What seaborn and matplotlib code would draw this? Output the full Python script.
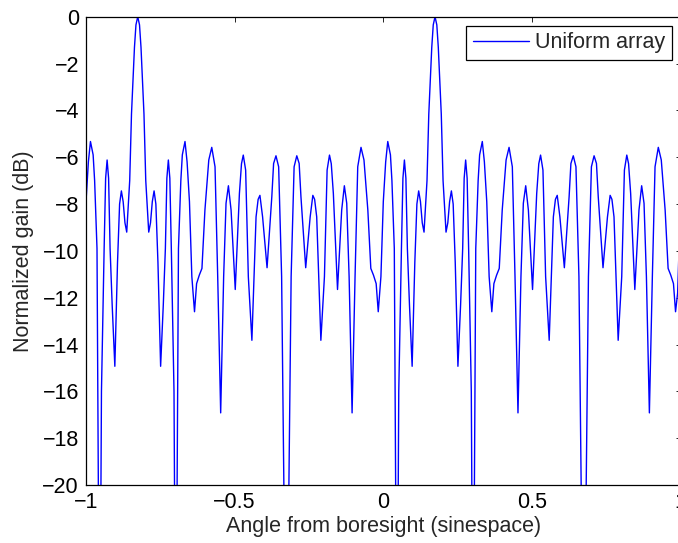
import matplotlib
matplotlib.use("Agg")
import matplotlib.pyplot as plt
import seaborn as sns
import pandas as pd

# ---- data (sine-space angle, dB) ----
angle_sine = [
    -1.000, -0.992, -0.985, -0.976, -0.971, -0.963, -0.954, -0.948, -0.939, -0.934,
    -0.929, -0.924, -0.919, -0.912, -0.903, -0.894, -0.887, -0.881, -0.875, -0.869,
    -0.863, -0.853, -0.847, -0.837, -0.832, -0.826,
    -0.820, -0.815, -0.805, -0.799, -0.789, -0.783, -0.777, -0.771, -0.765, -0.758,
    -0.749, -0.740, -0.733, -0.728, -0.723, -0.718, -0.713, -0.704, -0.698, -0.689,
    -0.681, -0.676, -0.667, -0.660, -0.652, -0.644, -0.635, -0.628, -0.619, -0.610,
    -0.600, -0.587, -0.577, -0.566, -0.557, -0.547, -0.537, -0.529, -0.521, -0.512,
    -0.498, -0.484, -0.477, -0.471, -0.463, -0.454, -0.442, -0.428, -0.421, -0.415,
    -0.406, -0.391, -0.375, -0.369, -0.361, -0.352, -0.342, -0.326,
    -0.310, -0.300, -0.291, -0.283, -0.277, -0.261, -0.246, -0.237, -0.231, -0.224,
    -0.210, -0.198, -0.189, -0.181, -0.175, -0.168, -0.154, -0.140, -0.131, -0.123,
    -0.115, -0.105, -0.095, -0.086, -0.075, -0.065, -0.052, -0.042, -0.033, -0.024,
    -0.017, -0.008, 0.000, 0.008, 0.015, 0.024, 0.029, 0.037, 0.046, 0.052,
    0.061, 0.066, 0.071, 0.076, 0.081, 0.088, 0.097, 0.106, 0.113, 0.119,
    0.125, 0.131, 0.137, 0.147, 0.153, 0.163, 0.168, 0.174,
    0.180, 0.185, 0.195, 0.201, 0.211, 0.217, 0.223, 0.229, 0.235, 0.242,
    0.251, 0.260, 0.267, 0.272, 0.277, 0.282, 0.287, 0.296, 0.302, 0.311,
    0.319, 0.324, 0.333, 0.340, 0.348, 0.356, 0.365, 0.372, 0.381, 0.390,
    0.400, 0.413, 0.423, 0.434, 0.443, 0.453, 0.463, 0.471, 0.479, 0.488,
    0.502, 0.516, 0.523, 0.529, 0.537, 0.546, 0.558, 0.572, 0.579, 0.585,
    0.594, 0.609, 0.625, 0.631, 0.639, 0.648, 0.658, 0.674,
    0.690, 0.700, 0.709, 0.717, 0.723, 0.739, 0.754, 0.763, 0.769, 0.776,
    0.790, 0.802, 0.811, 0.819, 0.825, 0.832, 0.846, 0.860, 0.869, 0.877,
    0.885, 0.895, 0.905, 0.914, 0.925, 0.935, 0.948, 0.958, 0.967, 0.976,
    0.983, 0.990, 1.000,
]

gain_db = [
    -7.9, -6.2, -5.33, -5.9, -7.0, -9.9, -30, -16.0, -9.9, -6.9,
    -6.12, -6.9, -9.9, -12.3, -14.93, -10.5, -8.0, -7.44, -7.9, -8.8,
    -9.2, -7.0, -4.16, -1.31, -0.35, 0,
    -0.35, -1.31, -4.16, -7.0, -9.2, -8.8, -7.9, -7.44, -8.0, -10.5,
    -14.93, -12.3, -9.9, -6.9, -6.12, -6.9, -9.9, -16.0, -30, -9.9,
    -7.0, -5.9, -5.33, -6.2, -7.9, -11.1, -12.6, -11.4, -11.04, -10.75,
    -8.26, -6.12, -5.58, -6.41, -11.1, -16.92, -11.1, -7.97, -7.22, -8.26,
    -11.65, -7.55, -6.28, -5.91, -6.55, -11.1, -13.82, -8.55, -7.8, -7.63,
    -8.55, -10.72, -7.69, -6.27, -5.94, -6.41, -11.1, -30,
    -11.1, -6.41, -5.94, -6.27, -7.69, -10.72, -8.55, -7.63, -7.8, -8.55,
    -13.82, -11.1, -6.55, -5.91, -6.28, -7.55, -11.65, -8.26, -7.22, -7.97,
    -11.1, -16.92, -11.1, -6.41, -5.58, -6.12, -8.26, -10.75, -11.04, -11.4,
    -12.6, -11.1, -7.9, -6.2, -5.33, -5.9, -7.0, -9.9, -30, -16.0,
    -9.9, -6.9, -6.12, -6.9, -9.9, -12.3, -14.93, -10.5, -8.0, -7.44,
    -7.9, -8.8, -9.2, -7.0, -4.16, -1.31, -0.35, 0,
    -0.35, -1.31, -4.16, -7.0, -9.2, -8.8, -7.9, -7.44, -8.0, -10.5,
    -14.93, -12.3, -9.9, -6.9, -6.12, -6.9, -9.9, -16.0, -30, -9.9,
    -7.0, -5.9, -5.33, -6.2, -7.9, -11.1, -12.6, -11.4, -11.04, -10.75,
    -8.26, -6.12, -5.58, -6.41, -11.1, -16.92, -11.1, -7.97, -7.22, -8.26,
    -11.65, -7.55, -6.28, -5.91, -6.55, -11.1, -13.82, -8.55, -7.8, -7.63,
    -8.55, -10.72, -7.69, -6.27, -5.94, -6.41, -11.1, -30,
    -11.1, -6.41, -5.94, -6.27, -7.69, -10.72, -8.55, -7.63, -7.8, -8.55,
    -13.82, -11.1, -6.55, -5.91, -6.28, -7.55, -11.65, -8.26, -7.22, -7.97,
    -11.1, -16.92, -11.1, -6.41, -5.58, -6.12, -8.26, -10.75, -11.04, -11.4,
    -12.6, -11.8, -7.9,
]

series_label = "Uniform array"
x_ticks = [-1, -0.5, 0, 0.5, 1]
x_tick_labels = ["\u22121", "\u22120.5", "0", "0.5", "1"]
y_ticks = [-20, -18, -16, -14, -12, -10, -8, -6, -4, -2, 0]
y_tick_labels = ["\u221220", "\u221218", "\u221216", "\u221214", "\u221212", "\u221210",
                 "\u22128", "\u22126", "\u22124", "\u22122", "0"]
x_label = "Angle from boresight (sinespace)"
y_label = "Normalized gain (dB)"

assert len(angle_sine) == len(gain_db)
df = pd.DataFrame({"angle": angle_sine, "gain": gain_db, "series": series_label})

sns.set_style("white")
plt.rcParams["font.family"] = ["Liberation Sans", "DejaVu Sans"]
plt.rcParams["font.size"] = 15.5

W, H = 678, 543
fig = plt.figure(figsize=(W / 100, H / 100), dpi=100)
# axes box in pixels: left 86, right 680.6 (beyond the cropped figure), top 16.7, bottom 485
ax = fig.add_axes([86 / W, (H - 485) / H, 594.6 / W, 468.3 / H])

sns.lineplot(data=df, x="angle", y="gain", hue="series", palette=["#0000ff"],
             sort=False, estimator=None, linewidth=1.0, ax=ax)

ax.set_xlim(-1, 1)
ax.set_ylim(-20, 0)
ax.set_xticks(x_ticks)
ax.set_xticklabels(x_tick_labels)
ax.set_yticks(y_ticks)
ax.set_yticklabels(y_tick_labels)
ax.set_xlabel(x_label, fontsize=15.5, labelpad=2)
ax.set_ylabel(y_label, fontsize=15.5, labelpad=6)

ax.tick_params(direction="in", length=3.8, width=0.6, top=True, right=True,
               labelsize=15.5, colors="black", pad=5)
for s in ax.spines.values():
    s.set_visible(True)
    s.set_color("black")
    s.set_linewidth(0.9)

leg = ax.legend(loc="upper right", bbox_to_anchor=(0.985, 0.981), borderaxespad=0,
                frameon=True, fancybox=False, shadow=False, framealpha=1,
                edgecolor="black", handlelength=2.6, handletextpad=0.3,
                borderpad=0.3, fontsize=15.5)
leg.get_frame().set_linewidth(0.9)
for line in leg.get_lines():
    line.set_linewidth(1.0)

fig.savefig("out.png", dpi=100)
